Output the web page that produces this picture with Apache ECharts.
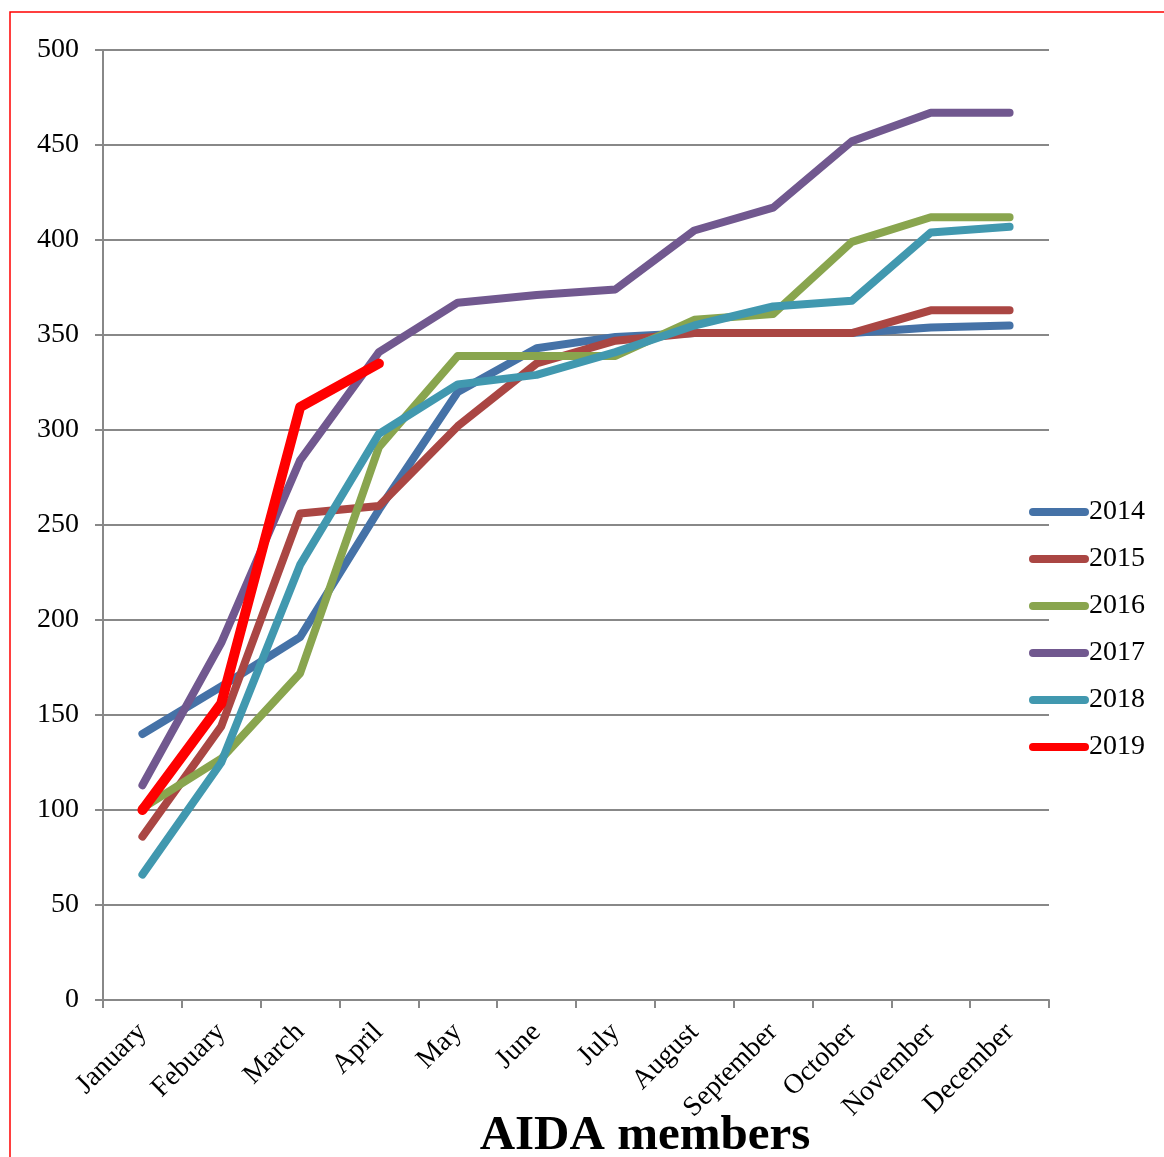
<!DOCTYPE html>
<html><head><meta charset="utf-8">
<script src="https://cdn.jsdelivr.net/npm/echarts@6/dist/echarts.min.js"></script>
<style>html,body{margin:0;padding:0;background:#fff}#c{width:1164px;height:1157px}</style>
</head><body><div id="c"></div>
<script>
const months = ['January','Febuary','March','April','May','June','July','August','September','October','November','December'];
const yearNames = ['2014','2015','2016','2017','2018','2019'];
const v2014 = [140,165,191,258,320,343,349,351,351,351,354,355];
const v2015 = [86,144,256,260,302,335,347,351,351,351,363,363];
const v2016 = [101,127,172,291,339,339,339,358,361,399,412,412];
const v2017 = [113,188,284,341,367,371,374,405,417,452,467,467];
const v2018 = [66,125,229,298,324,329,341,355,365,368,404,407];
const v2019 = [100,156,312,335];
const yTicks = [0,50,100,150,200,250,300,350,400,450,500];

const colors = ['#4572A7','#AA4643','#89A54E','#71588F','#4198AF','#FF0000'];
const widths = [8,8,8,8,8,10];
const allData = [v2014,v2015,v2016,v2017,v2018,v2019];
const FONT = 'Liberation Serif';

const chart = echarts.init(document.getElementById('c'), null, {renderer:'canvas'});
chart.setOption({
  animation:false,
  backgroundColor:'#fff',
  graphic:[{type:'rect', shape:{x:10,y:12,width:1300,height:1300}, style:{fill:'none', stroke:'#FF0000', lineWidth:1.5}, z:-1}],
  title:{text:'AIDA members', left:640, top:1107, textAlign:'center',
    textStyle:{fontFamily:FONT, fontWeight:'bold', fontSize:49, color:'#000'}},
  legend:{orient:'vertical', left:1024, top:493, itemWidth:60, itemHeight:9, itemGap:19,
    icon:'path://M4,0 H56 A4,4 0 0 1 56,8 H4 A4,4 0 0 1 4,0 Z',
    data:yearNames,
    textStyle:{fontFamily:FONT, fontSize:28, color:'#000', padding:[0,0,0,-5]}},
  grid:{left:103, right:115, top:50, bottom:157, containLabel:false},
  xAxis:{type:'category', data:months, boundaryGap:true,
    axisLine:{lineStyle:{color:'#888', width:2}},
    axisTick:{show:true, length:8, lineStyle:{color:'#888', width:2}},
    axisLabel:{rotate:45, margin:28, fontFamily:FONT, fontSize:28, color:'#000', interval:0}},
  yAxis:{type:'value', min:0, max:500, interval:50,
    axisLine:{show:true, lineStyle:{color:'#888', width:2}},
    axisTick:{show:true, length:8, lineStyle:{color:'#888', width:2}},
    splitLine:{lineStyle:{color:'#888', width:2}},
    axisLabel:{margin:24, fontFamily:FONT, fontSize:28, color:'#000', padding:[3,0,0,0],
      formatter:function(v){return yTicks.indexOf(v)>=0?String(v):'';}}},
  series: yearNames.map((n,i)=>({
    name:n, type:'line', data:allData[i], symbol:'none', showSymbol:false,
    itemStyle:{color:colors[i]},
    lineStyle:{color:colors[i], width:widths[i], cap:'round', join:'round'},
    z:2+i
  }))
});
</script></body></html>
